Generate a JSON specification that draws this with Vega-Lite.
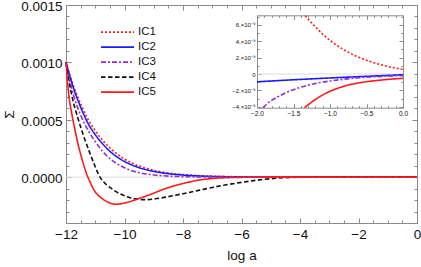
{
  "$schema": "https://vega.github.io/schema/vega-lite/v6.json",
  "width": 351,
  "height": 218,
  "autosize": {"type": "none"},
  "padding": {"left": 66, "top": 5, "right": 4, "bottom": 44},
  "background": "white",
  "config": {
    "view": {"stroke": null},
    "axis": {"domainColor": "#8a8a8a", "tickColor": "#8a8a8a", "labelColor": "#111111", "labelFont": "Liberation Sans", "titleFont": "Liberation Sans", "titleFontWeight": "normal", "titleColor": "#111111", "grid": false, "domainWidth": 1, "tickWidth": 1, "labelOverlap": false, "labelFlush": false}
  },
  "datasets": {
    "main": [
      {"x": -12, "y": 0.001, "s": "IC1"}, {"x": -11.75, "y": 0.0008, "s": "IC1"}, {"x": -11.5, "y": 0.00064, "s": "IC1"}, {"x": -11.25, "y": 0.000505, "s": "IC1"}, {"x": -11, "y": 0.000405, "s": "IC1"}, {"x": -10.75, "y": 0.000322, "s": "IC1"}, {"x": -10.5, "y": 0.000255, "s": "IC1"}, {"x": -10.25, "y": 0.0002, "s": "IC1"}, {"x": -10, "y": 0.000157, "s": "IC1"}, {"x": -9.75, "y": 0.000123, "s": "IC1"}, {"x": -9.5, "y": 0.000096, "s": "IC1"}, {"x": -9, "y": 0.000059, "s": "IC1"}, {"x": -8.5, "y": 0.000036, "s": "IC1"}, {"x": -8, "y": 0.000022, "s": "IC1"}, {"x": -7.5, "y": 0.000013, "s": "IC1"}, {"x": -7, "y": 0.0000078, "s": "IC1"}, {"x": -6.5, "y": 0.0000046, "s": "IC1"}, {"x": -6, "y": 0.0000027, "s": "IC1"}, {"x": -5, "y": 0.0000009, "s": "IC1"}, {"x": -4, "y": 0.0000002, "s": "IC1"}, {"x": -3, "y": 0.00000004, "s": "IC1"}, {"x": -2, "y": 0.00000001, "s": "IC1"}, {"x": -1, "y": 0.000000003, "s": "IC1"}, {"x": 0, "y": 0.0000000006, "s": "IC1"},
      {"x": -12, "y": 0.001, "s": "IC2"}, {"x": -11.75, "y": 0.00078, "s": "IC2"}, {"x": -11.5, "y": 0.00061, "s": "IC2"}, {"x": -11.25, "y": 0.00047, "s": "IC2"}, {"x": -11, "y": 0.00037, "s": "IC2"}, {"x": -10.75, "y": 0.00029, "s": "IC2"}, {"x": -10.5, "y": 0.000225, "s": "IC2"}, {"x": -10.25, "y": 0.000175, "s": "IC2"}, {"x": -10, "y": 0.000136, "s": "IC2"}, {"x": -9.75, "y": 0.000106, "s": "IC2"}, {"x": -9.5, "y": 0.000082, "s": "IC2"}, {"x": -9, "y": 0.00005, "s": "IC2"}, {"x": -8.5, "y": 0.00003, "s": "IC2"}, {"x": -8, "y": 0.000018, "s": "IC2"}, {"x": -7.5, "y": 0.0000105, "s": "IC2"}, {"x": -7, "y": 0.000006, "s": "IC2"}, {"x": -6.5, "y": 0.0000035, "s": "IC2"}, {"x": -6, "y": 0.000002, "s": "IC2"}, {"x": -5, "y": 0.0000006, "s": "IC2"}, {"x": -4, "y": 0.0000001, "s": "IC2"}, {"x": -3, "y": 0.00000001, "s": "IC2"}, {"x": -2, "y": -0.000000001, "s": "IC2"}, {"x": 0, "y": -0.0000000001, "s": "IC2"},
      {"x": -12, "y": 0.001, "s": "IC3"}, {"x": -11.75, "y": 0.00072, "s": "IC3"}, {"x": -11.5, "y": 0.00054, "s": "IC3"}, {"x": -11.25, "y": 0.00041, "s": "IC3"}, {"x": -11, "y": 0.00031, "s": "IC3"}, {"x": -10.75, "y": 0.000225, "s": "IC3"}, {"x": -10.5, "y": 0.000162, "s": "IC3"}, {"x": -10.25, "y": 0.000115, "s": "IC3"}, {"x": -10, "y": 0.000082, "s": "IC3"}, {"x": -9.75, "y": 0.000056, "s": "IC3"}, {"x": -9.5, "y": 0.000039, "s": "IC3"}, {"x": -9, "y": 0.000019, "s": "IC3"}, {"x": -8.5, "y": 0.0000085, "s": "IC3"}, {"x": -8, "y": 0.000004, "s": "IC3"}, {"x": -7.5, "y": 0.0000015, "s": "IC3"}, {"x": -7, "y": 0.0000005, "s": "IC3"}, {"x": -6, "y": 0.0000001, "s": "IC3"}, {"x": -4, "y": 0.00000001, "s": "IC3"}, {"x": -2, "y": -0.000000004, "s": "IC3"}, {"x": 0, "y": -0.0000000002, "s": "IC3"},
      {"x": -12, "y": 0.001, "s": "IC4"}, {"x": -11.9, "y": 0.00084, "s": "IC4"}, {"x": -11.8, "y": 0.00071, "s": "IC4"}, {"x": -11.6, "y": 0.00052, "s": "IC4"}, {"x": -11.4, "y": 0.00036, "s": "IC4"}, {"x": -11.2, "y": 0.00022, "s": "IC4"}, {"x": -11, "y": 0.00009, "s": "IC4"}, {"x": -10.9, "y": 0.00003, "s": "IC4"}, {"x": -10.8, "y": -0.000015, "s": "IC4"}, {"x": -10.7, "y": -0.000045, "s": "IC4"}, {"x": -10.6, "y": -0.00007, "s": "IC4"}, {"x": -10.5, "y": -0.00009, "s": "IC4"}, {"x": -10.4, "y": -0.000108, "s": "IC4"}, {"x": -10.2, "y": -0.00014, "s": "IC4"}, {"x": -10, "y": -0.000163, "s": "IC4"}, {"x": -9.8, "y": -0.00018, "s": "IC4"}, {"x": -9.6, "y": -0.00019, "s": "IC4"}, {"x": -9.4, "y": -0.000196, "s": "IC4"}, {"x": -9.2, "y": -0.000196, "s": "IC4"}, {"x": -9, "y": -0.000191, "s": "IC4"}, {"x": -8.7, "y": -0.00018, "s": "IC4"}, {"x": -8.4, "y": -0.000165, "s": "IC4"}, {"x": -8, "y": -0.000145, "s": "IC4"}, {"x": -7.5, "y": -0.000118, "s": "IC4"}, {"x": -7, "y": -0.00009, "s": "IC4"}, {"x": -6.5, "y": -0.000066, "s": "IC4"}, {"x": -6, "y": -0.000046, "s": "IC4"}, {"x": -5.5, "y": -0.000028, "s": "IC4"}, {"x": -5, "y": -0.000014, "s": "IC4"}, {"x": -4.5, "y": -0.000005, "s": "IC4"}, {"x": -4, "y": -0.0000015, "s": "IC4"}, {"x": -3, "y": -0.0000002, "s": "IC4"}, {"x": -2, "y": -0.00000002, "s": "IC4"}, {"x": 0, "y": -0.000000001, "s": "IC4"},
      {"x": -12, "y": 0.001, "s": "IC5"}, {"x": -11.92, "y": 0.00075, "s": "IC5"}, {"x": -11.8, "y": 0.00055, "s": "IC5"}, {"x": -11.7, "y": 0.00042, "s": "IC5"}, {"x": -11.6, "y": 0.0003, "s": "IC5"}, {"x": -11.5, "y": 0.0002, "s": "IC5"}, {"x": -11.4, "y": 0.00011, "s": "IC5"}, {"x": -11.3, "y": 0.00003, "s": "IC5"}, {"x": -11.2, "y": -0.00003, "s": "IC5"}, {"x": -11.1, "y": -0.000085, "s": "IC5"}, {"x": -11, "y": -0.00013, "s": "IC5"}, {"x": -10.9, "y": -0.000158, "s": "IC5"}, {"x": -10.8, "y": -0.00018, "s": "IC5"}, {"x": -10.7, "y": -0.000199, "s": "IC5"}, {"x": -10.6, "y": -0.000214, "s": "IC5"}, {"x": -10.5, "y": -0.000226, "s": "IC5"}, {"x": -10.4, "y": -0.000233, "s": "IC5"}, {"x": -10.3, "y": -0.000236, "s": "IC5"}, {"x": -10.2, "y": -0.000235, "s": "IC5"}, {"x": -10, "y": -0.000226, "s": "IC5"}, {"x": -9.8, "y": -0.000212, "s": "IC5"}, {"x": -9.6, "y": -0.000195, "s": "IC5"}, {"x": -9.3, "y": -0.000168, "s": "IC5"}, {"x": -9, "y": -0.00014, "s": "IC5"}, {"x": -8.65, "y": -0.000104, "s": "IC5"}, {"x": -8.3, "y": -0.000076, "s": "IC5"}, {"x": -8, "y": -0.000056, "s": "IC5"}, {"x": -7.5, "y": -0.000028, "s": "IC5"}, {"x": -7, "y": -0.000012, "s": "IC5"}, {"x": -6.5, "y": -0.000005, "s": "IC5"}, {"x": -6, "y": -0.000002, "s": "IC5"}, {"x": -5, "y": -0.0000003, "s": "IC5"}, {"x": -4, "y": -0.00000003, "s": "IC5"}, {"x": -2, "y": -0.000000004, "s": "IC5"}, {"x": 0, "y": -0.0000000005, "s": "IC5"}
    ],
    "inset": [
      {"x": -1.34, "y": 7.1e-9, "s": "IC1"}, {"x": -1.2, "y": 5.75e-9, "s": "IC1"}, {"x": -1.1, "y": 4.85e-9, "s": "IC1"}, {"x": -1.0, "y": 4.1e-9, "s": "IC1"}, {"x": -0.9, "y": 3.45e-9, "s": "IC1"}, {"x": -0.8, "y": 2.9e-9, "s": "IC1"}, {"x": -0.7, "y": 2.42e-9, "s": "IC1"}, {"x": -0.6, "y": 2.02e-9, "s": "IC1"}, {"x": -0.5, "y": 1.68e-9, "s": "IC1"}, {"x": -0.4, "y": 1.38e-9, "s": "IC1"}, {"x": -0.3, "y": 1.12e-9, "s": "IC1"}, {"x": -0.2, "y": 0.9e-9, "s": "IC1"}, {"x": -0.1, "y": 0.72e-9, "s": "IC1"}, {"x": 0, "y": 0.57e-9, "s": "IC1"},
      {"x": -2, "y": -0.95e-9, "s": "IC2"}, {"x": -1.5, "y": -0.7e-9, "s": "IC2"}, {"x": -1, "y": -0.48e-9, "s": "IC2"}, {"x": -0.5, "y": -0.28e-9, "s": "IC2"}, {"x": 0, "y": -0.09e-9, "s": "IC2"},
      {"x": -1.92, "y": -4.1e-9, "s": "IC3"}, {"x": -1.8, "y": -3.2e-9, "s": "IC3"}, {"x": -1.7, "y": -2.7e-9, "s": "IC3"}, {"x": -1.6, "y": -2.25e-9, "s": "IC3"}, {"x": -1.5, "y": -1.9e-9, "s": "IC3"}, {"x": -1.4, "y": -1.6e-9, "s": "IC3"}, {"x": -1.3, "y": -1.35e-9, "s": "IC3"}, {"x": -1.2, "y": -1.15e-9, "s": "IC3"}, {"x": -1.1, "y": -0.98e-9, "s": "IC3"}, {"x": -1.0, "y": -0.85e-9, "s": "IC3"}, {"x": -0.8, "y": -0.62e-9, "s": "IC3"}, {"x": -0.6, "y": -0.46e-9, "s": "IC3"}, {"x": -0.4, "y": -0.34e-9, "s": "IC3"}, {"x": -0.2, "y": -0.25e-9, "s": "IC3"}, {"x": 0, "y": -0.19e-9, "s": "IC3"},
      {"x": -1.35, "y": -4.1e-9, "s": "IC5"}, {"x": -1.3, "y": -3.75e-9, "s": "IC5"}, {"x": -1.2, "y": -3.1e-9, "s": "IC5"}, {"x": -1.1, "y": -2.55e-9, "s": "IC5"}, {"x": -1.0, "y": -2.1e-9, "s": "IC5"}, {"x": -0.9, "y": -1.75e-9, "s": "IC5"}, {"x": -0.8, "y": -1.47e-9, "s": "IC5"}, {"x": -0.7, "y": -1.25e-9, "s": "IC5"}, {"x": -0.6, "y": -1.07e-9, "s": "IC5"}, {"x": -0.5, "y": -0.94e-9, "s": "IC5"}, {"x": -0.4, "y": -0.83e-9, "s": "IC5"}, {"x": -0.3, "y": -0.73e-9, "s": "IC5"}, {"x": -0.2, "y": -0.65e-9, "s": "IC5"}, {"x": -0.1, "y": -0.58e-9, "s": "IC5"}, {"x": 0, "y": -0.52e-9, "s": "IC5"}
    ]
  },
  "layer": [
    {
      "layer": [
        {
          "data": {"values": [{}]},
          "mark": {"type": "rule", "color": "#dcdcdc", "strokeWidth": 1},
          "encoding": {
            "x": {"datum": -12, "type": "quantitative", "axis": {"orient": "top", "values": [-12,-11.5,-11,-10.5,-10,-9.5,-9,-8.5,-8,-7.5,-7,-6.5,-6,-5.5,-5,-4.5,-4,-3.5,-3,-2.5,-2,-1.5,-1,-0.5,0], "labels": false, "title": null, "tickSize": {"condition": {"test": "abs(datum.value % 2) < 0.000001", "value": -5}, "value": -3}}},
            "x2": {"datum": 0},
            "y": {"datum": 0, "type": "quantitative", "axis": {"orient": "right", "values": [-0.0004,-0.0003,-0.0002,-0.0001,0,0.0001,0.0002,0.0003,0.0004,0.0005,0.0006,0.0007,0.0008,0.0009,0.001,0.0011,0.0012,0.0013,0.0014,0.0015], "labels": false, "title": null, "tickSize": {"condition": {"test": "abs(round(datum.value*10000)) % 5 === 0", "value": -5}, "value": -3}}}
          }
        },
        {
          "data": {"name": "main"},
          "mark": {"type": "line", "strokeWidth": 1.6, "interpolate": "monotone"},
          "encoding": {
            "x": {"field": "x", "type": "quantitative", "scale": {"domain": [-12, 0], "nice": false, "zero": false},
              "axis": {"orient": "bottom", "values": [-12,-11.5,-11,-10.5,-10,-9.5,-9,-8.5,-8,-7.5,-7,-6.5,-6,-5.5,-5,-4.5,-4,-3.5,-3,-2.5,-2,-1.5,-1,-0.5,0], "labelExpr": "abs(datum.value % 2) < 0.000001 ? format(datum.value, 'd') : ''", "tickSize": {"condition": {"test": "abs(datum.value % 2) < 0.000001", "value": -5}, "value": -3}, "labelPadding": 9, "labelFontSize": 13.5, "title": "log a", "titleFontSize": 13.5, "titlePadding": 6}},
            "y": {"field": "y", "type": "quantitative", "scale": {"domain": [-0.0004, 0.0015], "nice": false, "zero": false},
              "axis": {"orient": "left", "values": [-0.0004,-0.0003,-0.0002,-0.0001,0,0.0001,0.0002,0.0003,0.0004,0.0005,0.0006,0.0007,0.0008,0.0009,0.001,0.0011,0.0012,0.0013,0.0014,0.0015], "labelExpr": "abs(round(datum.value*10000)) % 5 === 0 ? format(datum.value, '.4f') : ''", "tickSize": {"condition": {"test": "abs(round(datum.value*10000)) % 5 === 0", "value": -5}, "value": -3}, "labelPadding": 9, "labelOffset": 1.5, "labelFontSize": 13.5, "title": "Σ", "titleFontSize": 13.5, "titlePadding": 4}},
            "color": {"field": "s", "type": "nominal", "scale": {"domain": ["IC1","IC2","IC3","IC4","IC5"], "range": ["#ff1a1a","#1a1aff","#8f2fd8","#111111","#ff1a1a"]},
              "legend": {"orient": "none", "legendX": 34, "legendY": 20, "title": null, "symbolType": "stroke", "symbolSize": 1089, "symbolStrokeWidth": 1.6, "clipHeight": 14.2, "rowPadding": 0, "labelOffset": 3, "labelFontSize": 11.5, "labelFont": "Liberation Sans", "labelColor": "#111111", "padding": 0}},
            "strokeDash": {"field": "s", "type": "nominal", "scale": {"domain": ["IC1","IC2","IC3","IC4","IC5"], "range": [[2,2],[1,0],[5,2,2,2],[4.5,2.5],[1,0]]}}
          }
        }
      ],
      "resolve": {"axis": {"x": "independent", "y": "independent"}}
    },
    {
      "layer": [
        {
          "data": {"values": [{}]},
          "mark": {"type": "rule", "color": "#dcdcdc", "strokeWidth": 1},
          "encoding": {
            "x": {"datum": -2, "type": "quantitative", "axis": {"orient": "top", "offset": -10.3, "values": [-2,-1.9,-1.8,-1.7,-1.6,-1.5,-1.4,-1.3,-1.2,-1.1,-1,-0.9,-0.8,-0.7,-0.6,-0.5,-0.4,-0.3,-0.2,-0.1,0], "labels": false, "title": null, "tickSize": {"condition": {"test": "abs(datum.value*2 - round(datum.value*2)) < 0.000001", "value": -4}, "value": -2}}},
            "x2": {"datum": 0},
            "y": {"datum": 0, "type": "quantitative", "axis": {"orient": "right", "offset": -14, "values": [-4e-9,-3e-9,-2e-9,-1e-9,0,1e-9,2e-9,3e-9,4e-9,5e-9,6e-9,7e-9], "labels": false, "title": null, "tickSize": {"condition": {"test": "abs(round(datum.value*1e9)) % 2 === 0", "value": -4}, "value": -2}}}
          }
        },
        {
          "data": {"name": "inset"},
          "mark": {"type": "line", "strokeWidth": 1.6, "interpolate": "monotone"},
          "encoding": {
            "x": {"field": "x", "type": "quantitative", "scale": {"domain": [-2, 0], "range": [191, 337], "nice": false, "zero": false},
              "axis": {"orient": "bottom", "offset": -115.3, "values": [-2,-1.9,-1.8,-1.7,-1.6,-1.5,-1.4,-1.3,-1.2,-1.1,-1,-0.9,-0.8,-0.7,-0.6,-0.5,-0.4,-0.3,-0.2,-0.1,0], "labelExpr": "abs(datum.value*2 - round(datum.value*2)) < 0.000001 ? format(datum.value, '.1f') : ''", "tickSize": {"condition": {"test": "abs(datum.value*2 - round(datum.value*2)) < 0.000001", "value": -4}, "value": -2}, "labelPadding": 7, "labelFontSize": 6.5, "title": null}},
            "y": {"field": "y", "type": "quantitative", "scale": {"domain": [-4.1e-9, 7.15e-9], "range": [102.7, 10.3], "nice": false, "zero": false},
              "axis": {"orient": "left", "offset": -191, "values": [-4e-9,-3e-9,-2e-9,-1e-9,0,1e-9,2e-9,3e-9,4e-9,5e-9,6e-9,7e-9], "labelExpr": "abs(round(datum.value*1e9)) % 2 === 0 ? (round(datum.value*1e9) === 0 ? '0' : format(round(datum.value*1e9), 'd') + '.×10⁻⁹') : ''", "tickSize": {"condition": {"test": "abs(round(datum.value*1e9)) % 2 === 0", "value": -4}, "value": -2}, "labelPadding": 6, "labelFontSize": 6, "title": null}},
            "color": {"field": "s", "type": "nominal"},
            "strokeDash": {"field": "s", "type": "nominal"}
          }
        }
      ],
      "resolve": {"axis": {"x": "independent", "y": "independent"}}
    }
  ],
  "resolve": {"scale": {"x": "independent", "y": "independent"}}
}
